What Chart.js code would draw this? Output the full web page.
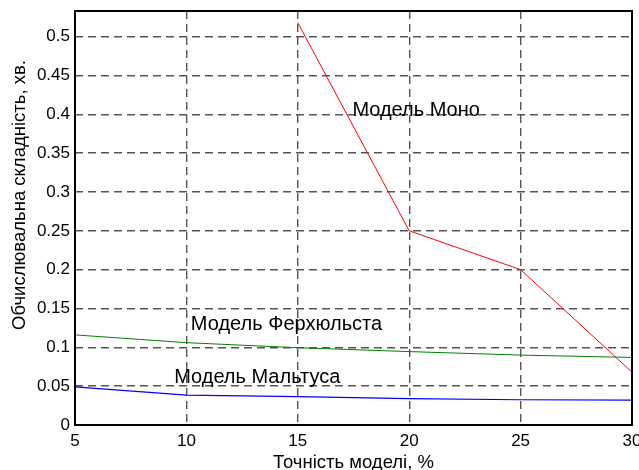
<!DOCTYPE html>
<html>
<head>
<meta charset="utf-8">
<script src="https://cdn.jsdelivr.net/npm/chart.js@4"></script>
<style>
  html, body { margin: 0; padding: 0; background: #fff; }
  #wrap { width: 639px; height: 470px; }
</style>
</head>
<body>
<div id="wrap"><canvas id="chart" width="639" height="470"></canvas></div>
<script>
// data
const accuracy = [5, 10, 15, 20, 25, 30];
const monoValues = [null, null, 0.518, 0.25, 0.2, 0.068];
const verhulstValues = [0.116, 0.106, 0.0995, 0.0945, 0.090, 0.087];
const malthusValues = [0.049, 0.0385, 0.0365, 0.034, 0.0325, 0.032];
const labels = [
    { text: 'Модель Моно', x: 17.45, y: 0.405 },
    { text: 'Модель Ферхюльста', x: 10.2, y: 0.130 },
    { text: 'Модель Мальтуса', x: 9.45, y: 0.061 }
];
const xTitle = 'Точність моделі, %';
const yTitle = 'Обчислювальна складність, хв.';

const FONT = '"Liberation Sans", Arial, sans-serif';

function toPoints(values) {
    return accuracy.map((x, i) => ({ x: x, y: values[i] })).filter(p => p.y !== null);
}

// frame, annotations and the y title
const decorPlugin = {
    id: 'decor',
    afterDraw(chart) {
        const ctx = chart.ctx;
        const a = chart.chartArea;
        const xs = chart.scales.x, ys = chart.scales.y;
        ctx.save();
        ctx.strokeStyle = '#000';
        ctx.lineWidth = 2;
        ctx.strokeRect(a.left, a.top, a.right - a.left, a.bottom - a.top);

        ctx.fillStyle = '#000';
        ctx.font = '20px ' + FONT;
        ctx.textBaseline = 'middle';
        ctx.textAlign = 'left';
        labels.forEach(l => {
            ctx.fillText(l.text, xs.getPixelForValue(l.x), ys.getPixelForValue(l.y));
        });

        ctx.font = '18.5px ' + FONT;
        ctx.translate(20, 195);
        ctx.rotate(-Math.PI / 2);
        ctx.textAlign = 'center';
        ctx.fillText(yTitle, 0, 0);
        ctx.restore();
    }
};

const gridStyle = {
    color: '#555',
    lineWidth: 1.4,
    drawTicks: false
};

const ctx = document.getElementById('chart').getContext('2d');
new Chart(ctx, {
    type: 'line',
    data: {
        datasets: [{
            label: 'Моно',
            data: toPoints(monoValues),
            borderColor: '#ff0000',
            borderWidth: 1,
            pointRadius: 0
        }, {
            label: 'Ферхюльст',
            data: toPoints(verhulstValues),
            borderColor: '#008000',
            borderWidth: 1,
            pointRadius: 0
        }, {
            label: 'Мальтус',
            data: toPoints(malthusValues),
            borderColor: '#0000ff',
            borderWidth: 1.2,
            pointRadius: 0
        }]
    },
    options: {
        responsive: false,
        animation: false,
        events: [],
        layout: { padding: { left: 0, right: 7, top: 11, bottom: 0 } },
        plugins: {
            legend: { display: false },
            tooltip: { enabled: false }
        },
        scales: {
            x: {
                type: 'linear',
                min: 5,
                max: 30,
                grid: gridStyle,
                border: { display: false, dash: [8, 5] },
                ticks: {
                    stepSize: 5,
                    padding: 6,
                    color: '#000',
                    font: { family: FONT, size: 17 },
                    maxRotation: 0
                },
                title: {
                    display: true,
                    text: xTitle,
                    color: '#000',
                    font: { family: FONT, size: 18.5 },
                    padding: { top: 4, bottom: -4 }
                },
                afterFit(scale) {
                    scale.paddingLeft = 0;
                    scale.paddingRight = 0;
                    scale.height = 45;
                }
            },
            y: {
                min: 0,
                max: 0.533,
                grid: gridStyle,
                border: { display: false, dash: [8, 5] },
                ticks: {
                    stepSize: 0.05,
                    includeBounds: false,
                    padding: 5,
                    color: '#000',
                    font: { family: FONT, size: 17 },
                    callback: v => String(Math.round(v * 100) / 100)
                },
                afterFit(scale) {
                    scale.paddingTop = 0;
                    scale.paddingBottom = 0;
                    scale.width = 75;
                }
            }
        }
    },
    plugins: [decorPlugin]
});
</script>
</body>
</html>
